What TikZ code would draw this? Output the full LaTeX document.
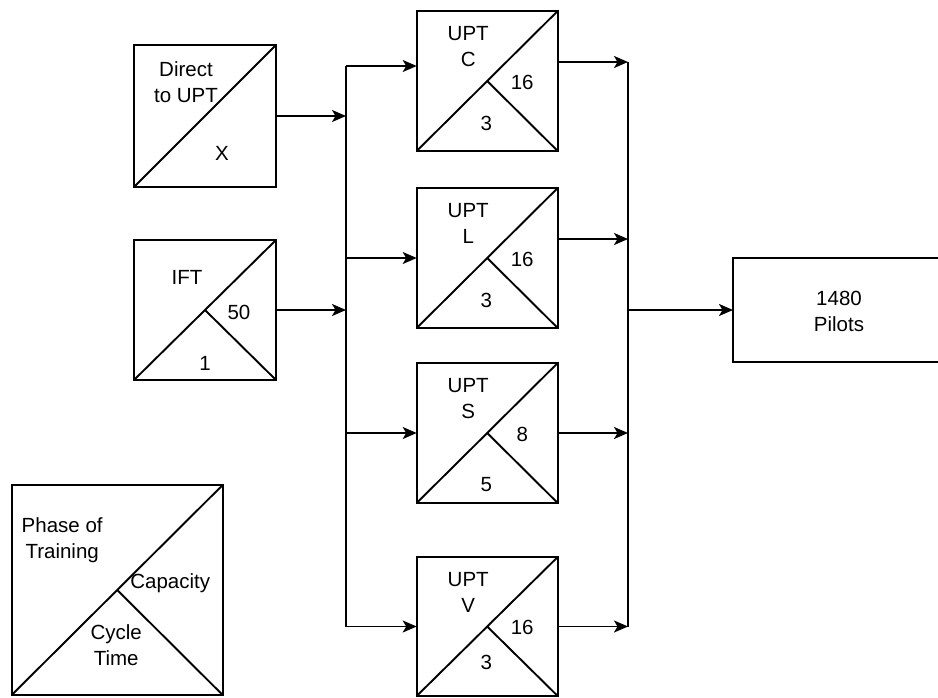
\documentclass[tikz,border=0pt]{standalone}
\usepackage{fontspec}
\setmainfont{Liberation Sans}
\usetikzlibrary{arrows.meta,calc}
\begin{document}
\begin{tikzpicture}[x=1pt,y=-1pt,
  box/.style={draw, line width=1.9pt, rectangle, inner sep=0pt, outer sep=0pt, minimum width=141pt, minimum height=140pt},
  lbl/.style={align=center, inner sep=0pt, font=\fontsize{20.5}{26}\selectfont},
  wire/.style={line width=1.9pt},
  arr/.style={wire, -{Stealth[length=14pt,width=12pt,inset=3.5pt]}}]
\useasboundingbox (0,0) rectangle (938,697);

% boxes
\node[box, minimum width=142pt, minimum height=142pt] (direct) at (205,116) {};
\node[box, minimum width=142pt] (ift) at (205,310) {};
\node[box] (upC) at (487.2,81) {};
\node[box] (upL) at (487.2,258) {};
\node[box] (upS) at (487.2,433) {};
\node[box, minimum height=139pt] (upV) at (487.2,626.5) {};
\node[box, minimum width=208pt, minimum height=104pt] (pilots) at (837,310) {};
\node[box, minimum width=211pt, minimum height=210pt] (legend) at (117.2,590) {};

% diagonals
\draw[wire] (direct.south west) -- (direct.north east);
\foreach \b in {ift,upC,upL,upS,upV,legend}{
  \draw[wire] (\b.south west) -- (\b.north east) (\b.center) -- (\b.south east);
}

% labels
\node[lbl] (tDirect) at ($(direct.center)+(-19,-33.5)$) {Direct\\to UPT};
\node[lbl] (tX) at ($(direct.center)+(17,37)$) {X};
\node[lbl] (tIFT) at ($(ift.center)+(-18,-33)$) {IFT};
\node[lbl] (tIFTc) at ($(ift.center)+(34,2)$) {50};
\node[lbl] (tIFTt) at ($(ift.center)+(0,53)$) {1};

\node[lbl] (tC) at ($(upC.center)+(-19,-34.5)$) {UPT\\C};
\node[lbl] (tCc) at ($(upC.center)+(35,1)$) {16};
\node[lbl] (tCt) at ($(upC.center)+(-1,42)$) {3};

\node[lbl] (tL) at ($(upL.center)+(-19,-34.5)$) {UPT\\L};
\node[lbl] (tLc) at ($(upL.center)+(35,1)$) {16};
\node[lbl] (tLt) at ($(upL.center)+(-1,42)$) {3};

\node[lbl] (tS) at ($(upS.center)+(-19,-34.5)$) {UPT\\S};
\node[lbl] (tSc) at ($(upS.center)+(35,1)$) {8};
\node[lbl] (tSt) at ($(upS.center)+(-1,52)$) {5};

\node[lbl] (tV) at ($(upV.center)+(-19,-34.5)$) {UPT\\V};
\node[lbl] (tVc) at ($(upV.center)+(35,1)$) {16};
\node[lbl] (tVt) at ($(upV.center)+(-1,36)$) {3};

\node[lbl] (tP) at (839,311.5) {1480\\Pilots};

\node[lbl] (tPh) at ($(legend.center)+(-55,-50)$) {Phase of\\Training};
\node[lbl] (tCap) at ($(legend.center)+(53,-7)$) {Capacity};
\node[lbl] (tCyc) at ($(legend.center)+(-1,55)$) {Cycle\\Time};

% left bus
\coordinate (lbT) at (346,66);
\coordinate (lbB) at (346,626.5);
\draw[wire] (lbT) -- (lbB);
\draw[arr] (direct.east) -- (direct.east -| lbT);
\draw[arr] (ift.east) -- (ift.east -| lbT);
\draw[arr] (lbT) -- (lbT -| upC.west);
\draw[arr] (upL.west -| lbT) -- (upL.west);
\draw[arr] (upS.west -| lbT) -- (upS.west);
\draw[arr] (lbB) -- (upV.west);

% right bus
\coordinate (rbT) at (628,62);
\coordinate (rbL) at (628,239);
\coordinate (rbB) at (628,626.5);
\draw[wire] (rbT) -- (rbB);
\draw[arr] (rbT -| upC.east) -- (rbT);
\draw[arr] (rbL -| upL.east) -- (rbL);
\draw[arr] (upS.east) -- (upS.east -| rbT);
\draw[arr] (upV.east) -- (rbB);
\draw[arr] (pilots.west -| rbT) -- (pilots.west);
\end{tikzpicture}
\end{document}
